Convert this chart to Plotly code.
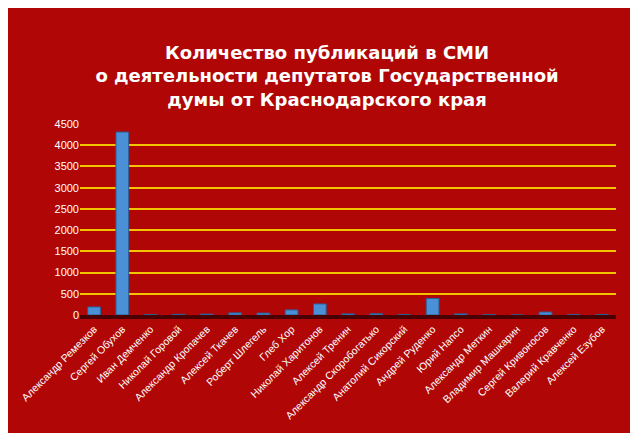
import plotly.graph_objects as go

names = ["Александр Ремезков", "Сергей Обухов", "Иван Демченко", "Николай Горовой",
         "Александр Кропачев", "Алексей Ткачев", "Роберт Шлегель", "Глеб Хор",
         "Николай Харитонов", "Алексей Тренин", "Александр Скоробогатько",
         "Анатолий Сикорский", "Андрей Руденко", "Юрий Напсо", "Александр Меткин",
         "Владимир Машкарин", "Сергей Кривоносов", "Валерий Кравченко", "Алексей Езубов"]
counts = [190, 4310, 10, 15, 20, 50, 45, 120, 260, 25, 30, 8, 390, 25, 8, 2, 70, 8, 12]
yticks = list(range(0, 4501, 500))

fig = go.Figure(go.Bar(
    x=names, y=counts, width=0.45,
    marker=dict(color="#4a90d6", line=dict(color="#2a5f99", width=1)),
))

fig.update_layout(
    width=638, height=433,
    paper_bgcolor="#b00606", plot_bgcolor="rgba(0,0,0,0)",
    margin=dict(l=45, r=30, t=116, b=126),
    showlegend=False, bargap=0.5,
    title=dict(
        text="Количество публикаций в СМИ<br>о деятельности депутатов Государственной<br>думы от Краснодарского края",
        x=0.5, y=0.882, yanchor="middle",
        font=dict(family="DejaVu Sans", size=18, color="white", weight="bold"),
    ),
    font=dict(family="Liberation Sans", color="white", size=11),
)
fig.update_xaxes(tickangle=-45, tickfont=dict(size=10.5), showgrid=False,
                 showline=True, linecolor="#4a0000", linewidth=4)
fig.update_yaxes(range=[0, 4500], tickvals=yticks, showgrid=True,
                 gridcolor="#f5c400", gridwidth=1.5, zeroline=False)

fig.write_html("out.html")
